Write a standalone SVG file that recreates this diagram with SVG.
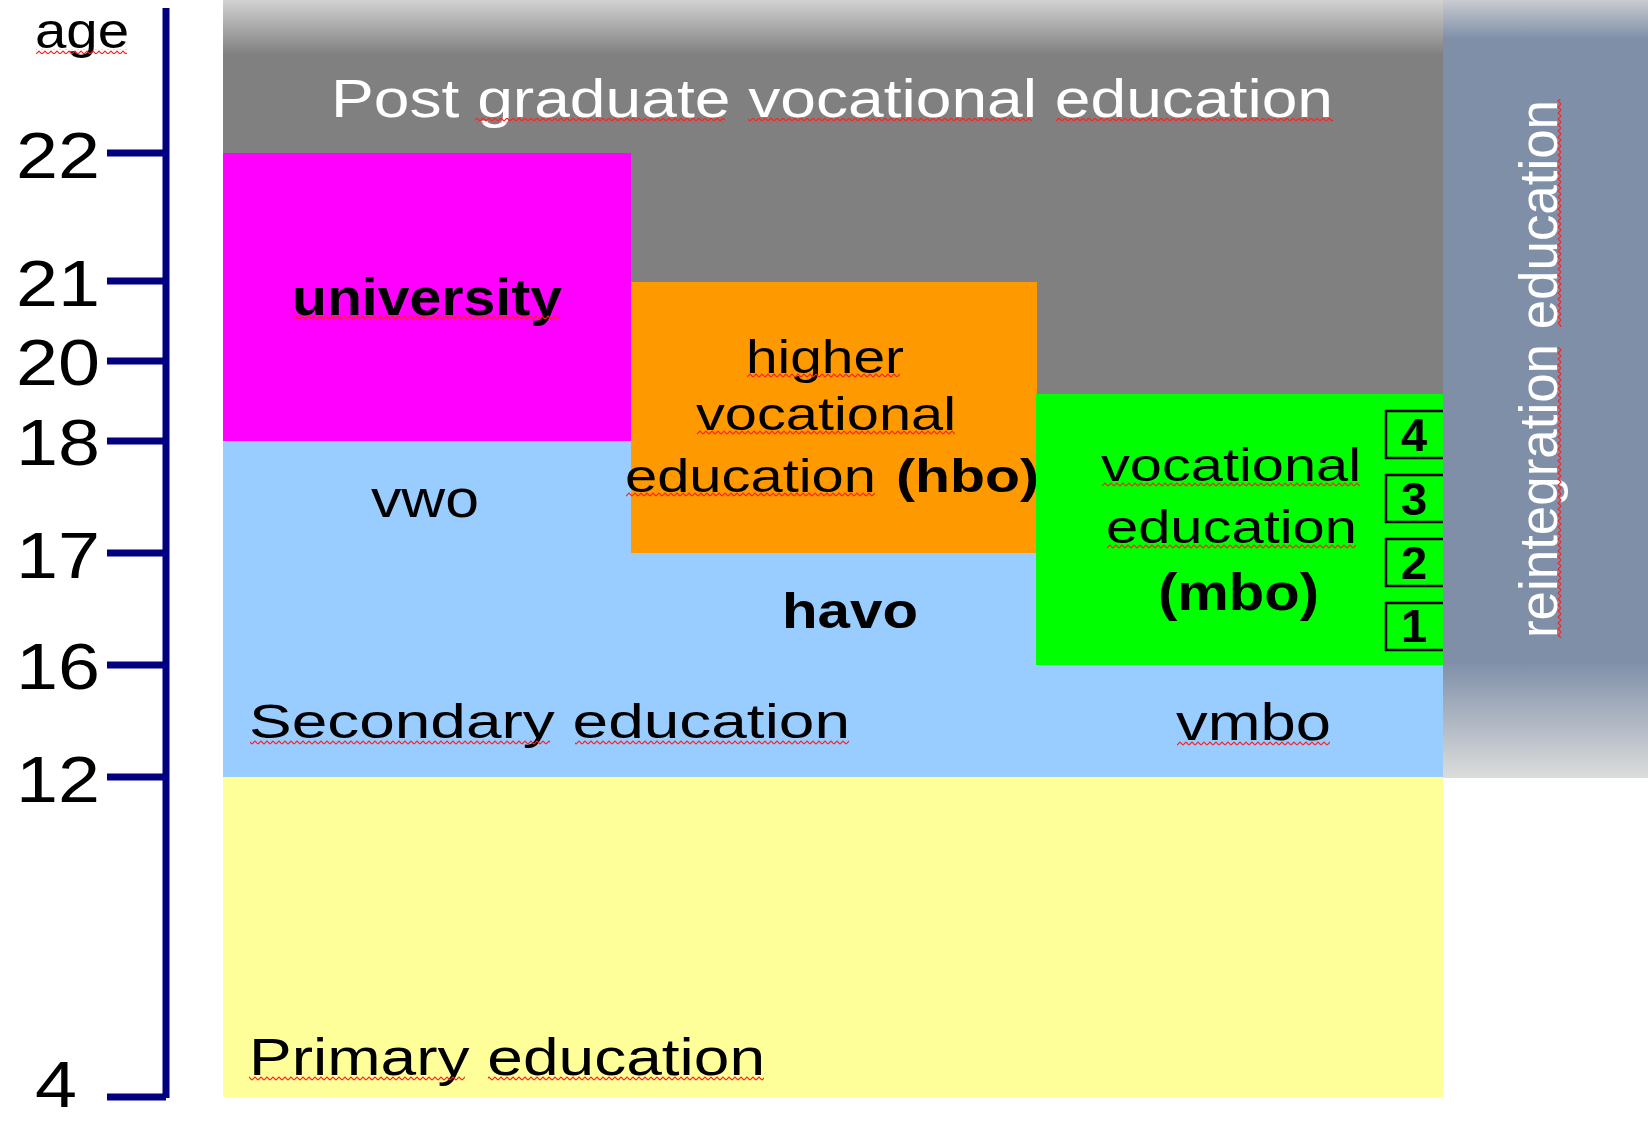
<svg xmlns="http://www.w3.org/2000/svg" width="1648" height="1121" viewBox="0 0 1648 1121">
<style>
text{font-family:"Liberation Sans",Arial,sans-serif;fill:#000}
.ax{font-size:64px}
.w{fill:#fff}
.b{font-weight:bold}
.tick{stroke:#000080;stroke-width:8;fill:none}
.box{fill:none;stroke:#000;stroke-width:2.5}
</style>
<defs>
<linearGradient id="grayG" gradientUnits="userSpaceOnUse" x1="0" y1="0" x2="0" y2="55">
<stop offset="0" stop-color="#d2d2d2"/><stop offset="1" stop-color="#808080"/>
</linearGradient>
<linearGradient id="reG" gradientUnits="userSpaceOnUse" x1="0" y1="0" x2="0" y2="778">
<stop offset="0" stop-color="#c9cbd0"/><stop offset="0.05" stop-color="#7f8fa8"/><stop offset="0.85" stop-color="#7f8fa8"/><stop offset="1" stop-color="#dcdcdc"/>
</linearGradient>
<pattern id="sq" patternUnits="userSpaceOnUse" width="6" height="5">
<path d="M0,4 L3,1 L6,4" fill="none" stroke="#ff2020" stroke-width="1.2"/>
</pattern>
</defs>
<rect width="1648" height="1121" fill="#fff"/>

<g id="axis">
<path class="tick" d="M166,8 V1098 M107,153 H166 M107,281 H166 M107,361 H166 M107,441 H166 M107,553 H166 M107,665 H166 M107,777 H166 M107,1097 H166" style="stroke-width:7"/>
<text class="ax" x="35" y="48" style="font-size:50px" textLength="94" lengthAdjust="spacingAndGlyphs">age</text>
<rect x="36" y="49" width="91" height="5" fill="url(#sq)"/>
<text class="ax" x="16" y="178" textLength="84" lengthAdjust="spacingAndGlyphs">22</text>
<text class="ax" x="16" y="306" textLength="84" lengthAdjust="spacingAndGlyphs">21</text>
<text class="ax" x="16" y="385" textLength="84" lengthAdjust="spacingAndGlyphs">20</text>
<text class="ax" x="16" y="465" textLength="84" lengthAdjust="spacingAndGlyphs">18</text>
<text class="ax" x="16" y="578" textLength="84" lengthAdjust="spacingAndGlyphs">17</text>
<text class="ax" x="16" y="689" textLength="84" lengthAdjust="spacingAndGlyphs">16</text>
<text class="ax" x="16" y="802" textLength="84" lengthAdjust="spacingAndGlyphs">12</text>
<text class="ax" x="35" y="1107" textLength="42" lengthAdjust="spacingAndGlyphs">4</text>
</g>

<g id="postgraduate">
<rect x="223" y="0" width="1220" height="445" fill="url(#grayG)"/>
<text class="w" x="331" y="117" style="font-size:54px" textLength="1002" lengthAdjust="spacingAndGlyphs">Post graduate vocational education</text>
<g transform="translate(0,117)">
<rect x="475" y="1" width="250" height="5" fill="url(#sq)"/>
<rect x="748" y="1" width="284" height="5" fill="url(#sq)"/>
<rect x="1056" y="1" width="277" height="5" fill="url(#sq)"/>
</g>
</g>

<g id="primary">
<rect x="223" y="777" width="1220" height="320" fill="#ffff99"/>
<text x="249" y="1075" style="font-size:52px" textLength="516" lengthAdjust="spacingAndGlyphs">Primary education</text>
<g transform="translate(0,1076)">
<rect x="249" y="0" width="216" height="5" fill="url(#sq)"/>
<rect x="488" y="0" width="276" height="5" fill="url(#sq)"/>
</g>
</g>

<g id="secondary">
<rect x="223" y="441" width="1220" height="336" fill="#99ccff"/>
<text x="249" y="738" style="font-size:48px" textLength="601" lengthAdjust="spacingAndGlyphs">Secondary education</text>
<g transform="translate(0,740)">
<rect x="250" y="0" width="300" height="5" fill="url(#sq)"/>
<rect x="575" y="0" width="274" height="5" fill="url(#sq)"/>
</g>
</g>

<g id="vwo">
<text x="371" y="517" style="font-size:54px" textLength="108" lengthAdjust="spacingAndGlyphs">vwo</text>
</g>

<g id="havo">
<text class="b" x="782" y="628" style="font-size:50px" textLength="136" lengthAdjust="spacingAndGlyphs">havo</text>
</g>

<g id="vmbo">
<text x="1176" y="740" style="font-size:52px" textLength="155" lengthAdjust="spacingAndGlyphs">vmbo</text>
<rect transform="translate(1177,741)" width="153" height="5" fill="url(#sq)"/>
</g>

<g id="university">
<rect x="223" y="153" width="408" height="288" fill="#ff00ff"/>
<text class="b" x="292" y="315" style="font-size:52px" textLength="270" lengthAdjust="spacingAndGlyphs">university</text>
<rect transform="translate(293,315)" width="267" height="5" fill="url(#sq)"/>
</g>

<g id="hbo">
<rect x="631" y="282" width="406" height="271" fill="#ff9900"/>
<text x="746" y="373" style="font-size:46px" textLength="158" lengthAdjust="spacingAndGlyphs">higher</text>
<text x="696" y="430" style="font-size:46px" textLength="260" lengthAdjust="spacingAndGlyphs">vocational</text>
<text x="625" y="492" style="font-size:46px" textLength="251" lengthAdjust="spacingAndGlyphs">education</text>
<text class="b" x="896" y="492" style="font-size:46px" textLength="143" lengthAdjust="spacingAndGlyphs">(hbo)</text>
<rect transform="translate(747,373)" width="153" height="5" fill="url(#sq)"/>
<rect transform="translate(697,430)" width="258" height="5" fill="url(#sq)"/>
<rect transform="translate(626,492)" width="249" height="5" fill="url(#sq)"/>
</g>

<g id="mbo">
<rect x="1036" y="394" width="407" height="271" fill="#00ff00"/>
<text x="1101" y="481" style="font-size:46px" textLength="260" lengthAdjust="spacingAndGlyphs">vocational</text>
<text x="1106" y="543" style="font-size:46px" textLength="251" lengthAdjust="spacingAndGlyphs">education</text>
<text class="b" x="1158" y="610" style="font-size:52px" textLength="161" lengthAdjust="spacingAndGlyphs">(mbo)</text>
<rect transform="translate(1102,482)" width="258" height="5" fill="url(#sq)"/>
<rect transform="translate(1107,544)" width="249" height="5" fill="url(#sq)"/>
</g>

<g id="mbo-levels">
<rect class="box" x="1386" y="411" width="64" height="47"/>
<rect class="box" x="1386" y="475" width="64" height="47"/>
<rect class="box" x="1386" y="539" width="64" height="47"/>
<rect class="box" x="1386" y="603" width="64" height="47"/>
<g style="font-size:47px" text-anchor="middle">
<text class="b" x="1414" y="451">4</text>
<text class="b" x="1414" y="515">3</text>
<text class="b" x="1414" y="579">2</text>
<text class="b" x="1414" y="642">1</text>
</g>
</g>

<g id="reintegration">
<rect x="1443" y="0" width="205" height="778" fill="url(#reG)"/>
<g transform="translate(1557,638) rotate(-90)">
<text class="w" x="0" y="0" style="font-size:54px" textLength="538" lengthAdjust="spacingAndGlyphs">reintegration education</text>
<rect x="0" y="0" width="291" height="5" fill="url(#sq)"/>
<rect x="311" y="0" width="228" height="5" fill="url(#sq)"/>
</g>
</g>

<g id="connectors"></g>
</svg>
